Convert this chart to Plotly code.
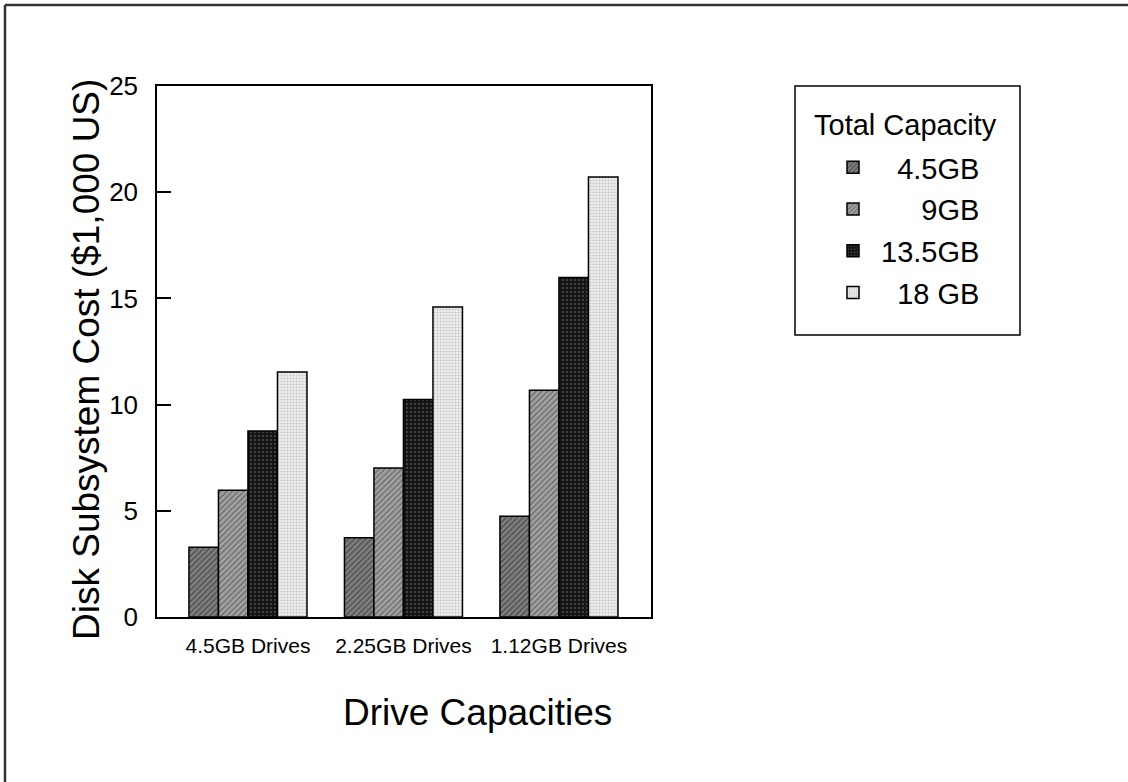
import plotly.graph_objects as go

categories = ["4.5GB Drives", "2.25GB Drives", "1.12GB Drives"]
series_names = ["4.5GB", "9GB", "13.5GB", "18 GB"]
legend_labels = ["\u2008\u20074.5GB", "\u2008\u2007\u2007\u20089GB", "\u200813.5GB", "\u2008\u200718 GB"]
cost_45 = [3.28, 3.73, 4.74]
cost_9 = [5.97, 7.02, 10.68]
cost_135 = [8.76, 10.24, 15.98]
cost_18 = [11.54, 14.60, 20.71]
y_ticks = [0, 5, 10, 15, 20, 25]

FONT = "Liberation Sans, Arial, Helvetica, sans-serif"
W, H = 1128, 782
L, R, T, B = 157, 477, 86, 165
PW, PH = W - L - R, H - T - B

styles = [
    dict(bg="#808080", fg="#1a1a1a", shape="/", size=4, sol=0.35),
    dict(bg="#a2a2a2", fg="#2a2a2a", shape="/", size=4, sol=0.3),
    dict(bg="#121212", fg="#6a6a6a", shape=".", size=4, sol=0.3),
    dict(bg="#eeeeee", fg="#9a9a9a", shape=".", size=3, sol=0.35),
]

fig = go.Figure()
for name, lab, vals, st in zip(series_names, legend_labels,
                               [cost_45, cost_9, cost_135, cost_18], styles):
    fig.add_trace(go.Bar(
        x=categories, y=vals, name=lab, legendgroup=name,
        marker=dict(color=st["bg"],
                    line=dict(color="#000000", width=1.5),
                    pattern=dict(shape=st["shape"], fgcolor=st["fg"], bgcolor=st["bg"],
                                 size=st["size"], solidity=st["sol"])),
    ))

def px_x(px):
    return (px - L) / PW

def px_y(py):
    return 1 - (py - T) / PH

fig.update_layout(
    width=W, height=H,
    margin=dict(l=L, r=R, t=T, b=B, autoexpand=False),
    paper_bgcolor="white", plot_bgcolor="white",
    barmode="group", bargap=0.241, bargroupgap=0,
    font=dict(family=FONT, color="#000000"),
    showlegend=True,
    legend=dict(
        x=px_x(833), y=px_y(142), xanchor="left", yanchor="top",
        borderwidth=0, bgcolor="rgba(0,0,0,0)",
        font=dict(size=29, family=FONT),
        tracegroupgap=1,
    ),
    xaxis=dict(
        range=[-0.585, 2.592], showgrid=False, zeroline=False,
        showline=True, linecolor="#000000", linewidth=1.5, mirror=True,
        ticks="", tickfont=dict(size=21, family=FONT), ticklabelstandoff=9,
    ),
    yaxis=dict(
        range=[0, 25], tickvals=y_ticks, showgrid=False, zeroline=False,
        showline=True, linecolor="#000000", linewidth=1.5, mirror=True,
        ticks="inside", ticklen=14, tickwidth=2, tickcolor="#000000",
        tickfont=dict(size=26, family=FONT), ticklabelstandoff=12,
    ),
    annotations=[
        dict(text="Disk Subsystem Cost ($1,000 US)", xref="paper", yref="paper",
             x=px_x(87), y=px_y(360), xanchor="center", yanchor="middle",
             textangle=-90, showarrow=False, font=dict(size=37, family=FONT)),
        dict(text="Drive Capacities", xref="paper", yref="paper",
             x=px_x(477), y=px_y(712), xanchor="center", yanchor="middle",
             showarrow=False, font=dict(size=37, family=FONT)),
        dict(text="Total Capacity", xref="paper", yref="paper",
             x=px_x(905), y=px_y(125), xanchor="center", yanchor="middle",
             showarrow=False, font=dict(size=29, family=FONT)),
    ],
    shapes=[
        dict(type="rect", xref="paper", yref="paper",
             x0=px_x(795), y0=px_y(86), x1=px_x(1020), y1=px_y(335),
             line=dict(color="#000000", width=1.5)),
        dict(type="line", xref="paper", yref="paper",
             x0=px_x(5), y0=px_y(5), x1=px_x(W + 10), y1=px_y(5),
             line=dict(color="#333333", width=2.5)),
        dict(type="line", xref="paper", yref="paper",
             x0=px_x(5), y0=px_y(5), x1=px_x(5), y1=px_y(H + 10),
             line=dict(color="#333333", width=2.5)),
    ],
)

fig.write_html("out.html", config={"displayModeBar": False},
               post_script="document.body.style.margin='0';")
